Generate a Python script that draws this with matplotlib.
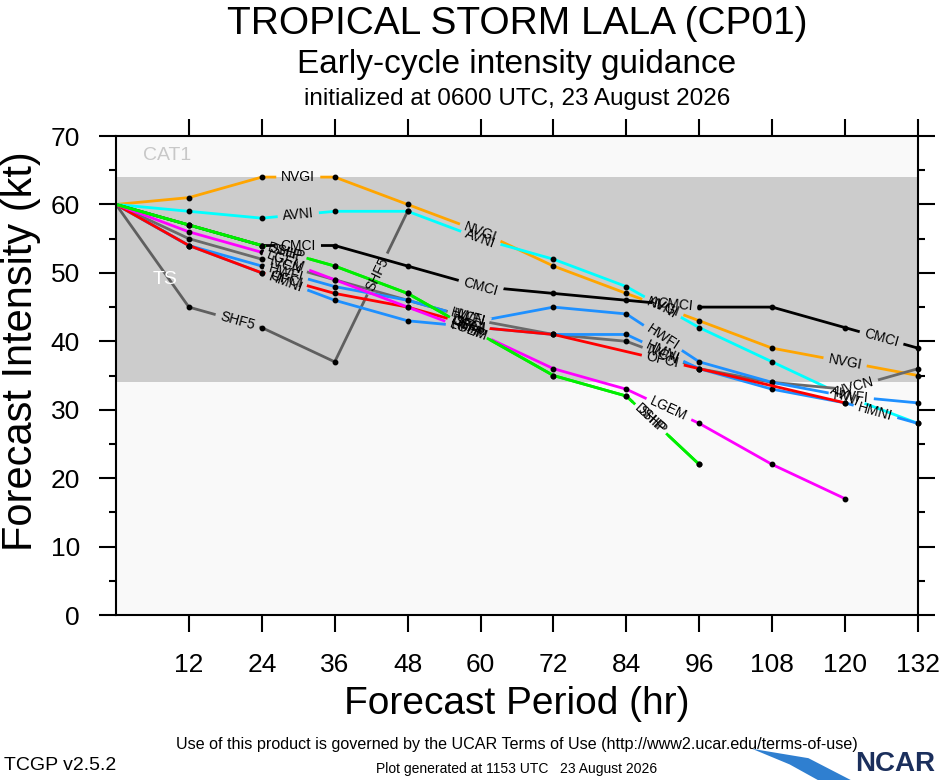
import numpy as np
import matplotlib.pyplot as plt
from matplotlib.path import Path
from matplotlib.patches import Polygon
from matplotlib.transforms import IdentityTransform

plt.rcParams['font.family'] = ['Liberation Sans', 'DejaVu Sans']

# forecast hours
hours = [0, 12, 24, 36, 48, 60, 72, 84, 96, 108, 120, 132]
ofci_hours = [0, 12, 24, 36, 48, 60, 72, 96, 120]

# intensity (kt) per model
nvgi = [60, 61, 64, 64, 60, 56, 51, 47, 43, 39, 37, 35]
avni = [60, 59, 58, 59, 59, 55, 52, 48, 42, 37, 32, 28]
cmci = [60, 57, 54, 54, 51, 48, 47, 46, 45, 45, 42, 39]
shf5 = [60, 45, 42, 37, 59]
ivcn = [60, 55, 52, 49, 46, 43, 41, 40, 36, 34, 33, 36]
hmni = [60, 54, 50, 46, 43, 42, 41, 41, 36, 33, 31, 28]
hwfi = [60, 54, 51, 48, 46, 43, 45, 44, 37, 34, 32, 31]
ofci = [60, 54, 50, 47, 45, 42, 41, 36, 31]
lgem = [60, 56, 53, 49, 45, 41, 36, 33, 28, 22, 17]
dshp = [60, 57, 54, 51, 47, 41, 35, 32, 22]
ship = [60, 57, 54, 51, 47, 41, 35, 32, 22]

models = ['NVGI', 'AVNI', 'CMCI', 'SHF5', 'IVCN', 'HMNI', 'HWFI', 'OFCI', 'LGEM', 'DSHP', 'SHIP']
series = {'NVGI': nvgi, 'AVNI': avni, 'CMCI': cmci, 'SHF5': shf5, 'IVCN': ivcn,
          'HMNI': hmni, 'HWFI': hwfi, 'OFCI': ofci, 'LGEM': lgem, 'DSHP': dshp, 'SHIP': ship}
colors = {'NVGI': '#ffa500', 'AVNI': '#00ffff', 'CMCI': '#000000', 'SHF5': '#5f5f5f',
          'IVCN': '#6a6a6a', 'HMNI': '#1e90ff', 'HWFI': '#1e90ff', 'OFCI': '#ff0000',
          'LGEM': '#ff00ff', 'DSHP': '#00ee00', 'SHIP': '#00ee00'}
# where the model names sit along each line (forecast hour)
label_hours = {'NVGI': [30, 60, 90, 120], 'AVNI': [30, 60, 90, 120],
               'CMCI': [30, 60, 92, 126], 'SHF5': [20, 43],
               'IVCN': [28, 58, 90, 122], 'HMNI': [28, 58, 90, 125],
               'HWFI': [28, 58, 90, 121], 'OFCI': [28, 58, 90],
               'LGEM': [28, 58, 91], 'DSHP': [28, 58, 88], 'SHIP': [28, 58, 88]}

fig = plt.figure(figsize=(9.4, 7.8), dpi=100)
ax = fig.add_axes([0.1234, 0.2115, 0.8532, 0.6141])
ax.set_xlim(0, 132)
ax.set_ylim(0, 70)
ax.set_facecolor('#f9f9f9')

# TS band
ax.axhspan(34, 64, color='#cccccc', zorder=0.5, lw=0)
ax.text(4.4, 67.2, 'CAT1', color='#c8c8c8', fontsize=14, va='center', ha='left')
ax.text(6, 49, 'TS', color='white', fontsize=14, va='center', ha='left')

renderer = fig.canvas.get_renderer()
W, H = fig.bbox.width, fig.bbox.height

for i, m in enumerate(models):
    y = series[m]
    x = ofci_hours if m == 'OFCI' else hours[:len(y)]
    line, = ax.plot(x, y, color=colors[m], lw=2.0, marker='o', ms=3.2,
                    mfc='k', mec='k', markevery=slice(1, None),
                    solid_capstyle='butt', zorder=2 + i * 0.01)
    # cut a gap in the line under each of its labels
    verts = [(0, 0), (W, 0), (W, H), (0, H), (0, 0)]
    codes = [Path.MOVETO, Path.LINETO, Path.LINETO, Path.LINETO, Path.CLOSEPOLY]
    for lh in label_hours[m]:
        k = int(np.searchsorted(x, lh)) - 1
        k = max(0, min(k, len(x) - 2))
        ly = np.interp(lh, x, y)
        p0 = ax.transData.transform((x[k], y[k]))
        p1 = ax.transData.transform((x[k + 1], y[k + 1]))
        ang = np.degrees(np.arctan2(p1[1] - p0[1], p1[0] - p0[0]))
        t = ax.text(lh, ly, m, fontsize=10, color='k', rotation=ang,
                    rotation_mode='anchor', ha='center', va='center',
                    zorder=5)
        w, h, d = renderer.get_text_width_height_descent(m, t.get_fontproperties(), ismath=False)
        c = ax.transData.transform((lh, ly))
        hw, hh = w / 2 + 5, h / 2 + 1
        ca, sa = np.cos(np.radians(ang)), np.sin(np.radians(ang))
        rect = [(-hw, -hh), (-hw, hh), (hw, hh), (hw, -hh)]
        pts = [(c[0] + px * ca - py * sa, c[1] + px * sa + py * ca) for px, py in rect]
        verts += pts + [pts[0]]
        codes += [Path.MOVETO, Path.LINETO, Path.LINETO, Path.LINETO, Path.CLOSEPOLY]
    line.set_clip_path(Path(verts, codes), IdentityTransform())
    line.set_clip_box(None)

# axes styling
for s in ax.spines.values():
    s.set_linewidth(1.5)
ax.set_xticks(hours[1:])
ax.set_yticks(np.arange(0, 71, 10))
ax.set_yticks(np.arange(5, 70, 10), minor=True)
ax.tick_params(which='major', direction='out', length=12, width=1.5,
               top=True, right=True, labelsize=19)
ax.tick_params(axis='x', which='major', pad=15)
ax.tick_params(axis='y', which='major', pad=14)
ax.tick_params(which='minor', direction='out', length=5, width=1.5, right=True)

ax.set_xlabel('Forecast Period (hr)', fontsize=28)
ax.xaxis.set_label_coords(0.5, -0.148)
ax.set_ylabel('Forecast Intensity (kt)', fontsize=30)
ax.yaxis.set_label_coords(-0.094, 0.55)

# titles, centred over the plot
cx = 0.1234 + 0.8532 / 2
fig.text(cx, 0.956, 'TROPICAL STORM LALA (CP01)', ha='center', va='baseline', fontsize=28)
fig.text(cx, 0.906, 'Early-cycle intensity guidance', ha='center', va='baseline', fontsize=24)
fig.text(cx, 0.865, 'initialized at 0600 UTC, 23 August 2026', ha='center', va='baseline', fontsize=17.5)

# footer
fig.text(cx, 0.046, 'Use of this product is governed by the UCAR Terms of Use (http://www2.ucar.edu/terms-of-use)',
         ha='center', va='center', fontsize=11.6)
fig.text(0.004, 0.018, 'TCGP v2.5.2', ha='left', va='center', fontsize=14)
fig.text(cx, 0.014, 'Plot generated at 1153 UTC   23 August 2026', ha='center', va='center',
         fontsize=10)
fig.patches.append(Polygon([(0.80, 0.04), (0.86, 0.028), (0.905, 0.0), (0.87, 0.0), (0.84, 0.02)],
                           closed=True, transform=fig.transFigure, facecolor='#2f7fd0',
                           edgecolor='none'))
fig.text(0.995, 0.004, 'NCAR', ha='right', va='bottom', fontsize=20, fontweight='bold',
         color='#1b2f5c')

fig.savefig('out.png', dpi=100)
